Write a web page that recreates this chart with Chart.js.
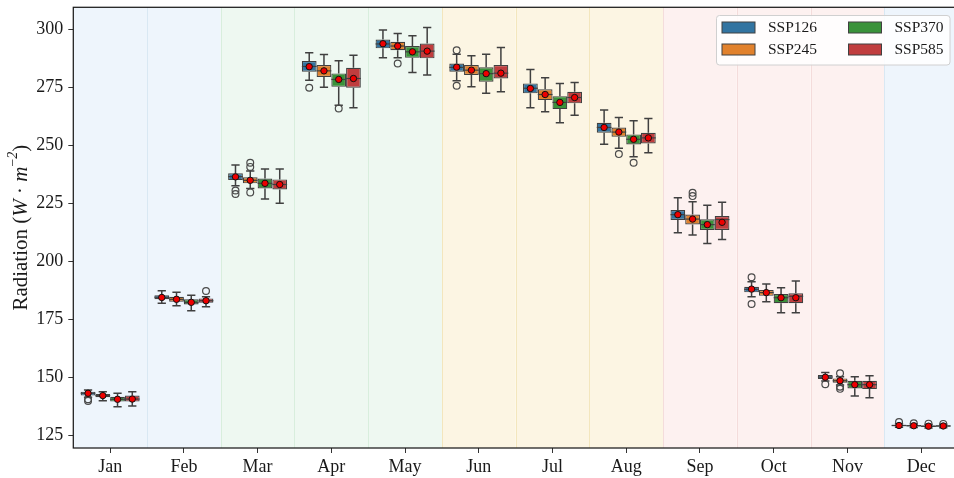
<!DOCTYPE html>
<html>
<head>
<meta charset="utf-8">
<script src="https://cdn.jsdelivr.net/npm/chart.js@4.4.1/dist/chart.umd.min.js"></script>
<style>
  html, body { margin: 0; padding: 0; overflow: hidden; background: #ffffff; }
  #wrap { width: 962px; height: 478px; position: relative; }
</style>
</head>
<body>
<div id="wrap"><canvas id="chart" width="962" height="478"></canvas></div>
<script>
// ---- data -----------------------------------------------------------------
const months = ['Jan','Feb','Mar','Apr','May','Jun','Jul','Aug','Sep','Oct','Nov','Dec'];
const scenarios = ['SSP126','SSP245','SSP370','SSP585'];
const yTicks = [125, 150, 175, 200, 225, 250, 275, 300];

// SSP126 box statistics per month
const lowSSP126  = [141.3, 181.8, 232.5, 278.0, 287.6, 277.7, 266.1, 250.4, 212.2, 184.6, 148.3, 128.3];
const q1SSP126   = [142.0, 183.5, 234.9, 281.6, 291.7, 281.6, 272.3, 255.3, 217.7, 186.5, 149.1, 128.8];
const medSSP126  = [143.0, 184.4, 236.4, 283.9, 293.6, 283.5, 274.5, 257.6, 220.0, 187.8, 150.0, 129.1];
const q3SSP126   = [143.7, 185.3, 237.8, 286.2, 295.5, 285.2, 276.6, 259.6, 222.0, 188.9, 150.9, 129.4];
const highSSP126 = [144.4, 187.2, 241.4, 289.8, 299.6, 289.2, 282.6, 265.1, 227.3, 191.1, 152.0, 129.9];
const meanSSP126 = [143.0, 184.3, 236.3, 283.8, 293.7, 283.6, 274.4, 257.6, 220.0, 187.9, 149.9, 129.1];
const outSSP126  = [[140.4, 139.7], [], [230.4, 228.9], [274.7], [], [290.9, 275.6], [], [], [], [193.0, 181.5], [146.9], [130.6]];

// SSP245
const lowSSP245  = [139.8, 180.7, 231.3, 274.9, 287.6, 275.1, 264.4, 248.6, 211.2, 182.5, 146.6, 128.2];
const q1SSP245   = [141.3, 182.5, 233.5, 279.4, 290.9, 280.2, 269.4, 253.6, 215.8, 185.0, 147.5, 128.7];
const medSSP245  = [142.0, 183.5, 234.8, 282.0, 292.7, 282.3, 271.8, 255.6, 218.1, 186.4, 148.4, 129.0];
const q3SSP245   = [142.7, 184.6, 236.1, 284.5, 294.5, 284.5, 274.1, 257.6, 220.1, 187.5, 149.4, 129.3];
const highSSP245 = [143.7, 186.5, 238.8, 289.1, 298.1, 288.5, 279.0, 261.9, 225.6, 190.1, 150.1, 129.7];
const meanSSP245 = [142.0, 183.5, 234.8, 282.0, 292.7, 282.3, 271.8, 255.6, 218.1, 186.4, 148.4, 129.0];
const outSSP245  = [[], [], [242.4, 240.6, 229.6], [], [285.2], [], [], [246.1], [229.4, 228.0], [], [151.6, 145.8, 144.9], [130.1]];

// SSP370
const lowSSP370  = [137.2, 178.6, 226.7, 267.2, 281.3, 272.3, 259.6, 245.0, 207.6, 177.7, 141.8, 128.0];
const q1SSP370   = [139.4, 181.3, 231.3, 275.1, 287.6, 277.3, 265.5, 250.3, 213.4, 181.8, 145.1, 128.5];
const medSSP370  = [140.4, 182.2, 233.5, 278.3, 290.2, 280.8, 268.4, 252.5, 215.7, 184.2, 146.7, 128.8];
const q3SSP370   = [141.5, 183.5, 235.6, 280.9, 292.7, 283.5, 271.1, 254.6, 218.0, 185.8, 148.4, 129.1];
const highSSP370 = [143.0, 185.3, 239.7, 286.4, 297.1, 289.2, 276.6, 260.5, 224.1, 188.5, 150.1, 129.5];
const meanSSP370 = [140.4, 182.2, 233.5, 278.3, 290.2, 280.8, 268.4, 252.5, 215.7, 184.2, 146.7, 128.8];
const outSSP370  = [[], [], [], [265.8], [], [], [], [242.4], [], [], [], [129.9]];

// SSP585
const lowSSP585  = [137.5, 180.3, 224.9, 266.1, 280.2, 273.0, 262.9, 246.7, 209.3, 177.7, 141.1, 128.1];
const q1SSP585   = [139.4, 182.0, 230.9, 274.7, 287.4, 278.7, 268.0, 250.7, 213.4, 181.8, 144.8, 128.6];
const medSSP585  = [140.5, 182.9, 233.0, 278.7, 290.5, 281.0, 270.5, 253.1, 217.9, 184.8, 146.7, 128.9];
const q3SSP585   = [142.0, 183.9, 235.2, 283.3, 293.8, 284.5, 273.0, 255.3, 219.4, 186.1, 148.4, 129.2];
const highSSP585 = [143.7, 184.6, 239.7, 288.7, 300.7, 292.1, 277.0, 261.5, 225.3, 191.4, 150.6, 129.6];
const meanSSP585 = [140.5, 182.9, 233.0, 278.7, 290.5, 281.0, 270.5, 253.1, 216.7, 184.2, 146.7, 128.9];
const outSSP585  = [[], [187.1], [], [], [], [], [], [], [], [], [], [129.8]];

// ---- styling --------------------------------------------------------------
const boxColors = ['#3274a1', '#e1812c', '#3a923a', '#c03d3e'];
const lineColor = '#404040';
const serif = '"Liberation Serif", "Times New Roman", serif';

// season of each month -> band colours (winter, spring, summer, autumn)
const monthSeason = [0, 0, 1, 1, 1, 2, 2, 2, 3, 3, 3, 0];
const bandFill = ['#eef5fc', '#eef8f1', '#fcf5e3', '#fdf1f0'];
const bandEdge = ['#d9e8f3', '#d8eedd', '#f3e6bd', '#f4dcdb'];

const stats = [
  { low: lowSSP126, q1: q1SSP126, med: medSSP126, q3: q3SSP126, high: highSSP126, mean: meanSSP126, out: outSSP126 },
  { low: lowSSP245, q1: q1SSP245, med: medSSP245, q3: q3SSP245, high: highSSP245, mean: meanSSP245, out: outSSP245 },
  { low: lowSSP370, q1: q1SSP370, med: medSSP370, q3: q3SSP370, high: highSSP370, mean: meanSSP370, out: outSSP370 },
  { low: lowSSP585, q1: q1SSP585, med: medSSP585, q3: q3SSP585, high: highSSP585, mean: meanSSP585, out: outSSP585 }
];

const datasets = scenarios.map((name, k) => ({
  label: name,
  data: months.map((m, i) => [stats[k].q1[i], stats[k].q3[i]]),
  backgroundColor: boxColors[k],
  borderColor: lineColor,
  borderWidth: 1.2,
  borderSkipped: false,
  categoryPercentage: 0.8,
  barPercentage: 1.0
}));

// seasonal background bands behind the boxes
const bandsPlugin = {
  id: 'bands',
  beforeDatasetsDraw(chart) {
    const { ctx, chartArea: a } = chart;
    const step = (a.right - a.left) / months.length;
    ctx.save();
    months.forEach((m, i) => {
      const s = monthSeason[i];
      const x0 = a.left + i * step;
      ctx.fillStyle = bandFill[s];
      ctx.fillRect(x0, a.top, step, a.bottom - a.top);
    });
    ctx.lineWidth = 1;
    months.forEach((m, i) => {
      if (i === 0) return;
      const x0 = Math.round(a.left + i * step) + 0.5;
      ctx.strokeStyle = bandEdge[monthSeason[i]];
      ctx.beginPath();
      ctx.moveTo(x0, a.top);
      ctx.lineTo(x0, a.bottom);
      ctx.stroke();
    });
    ctx.restore();
  }
};

// whiskers, medians, fliers and mean markers on top of the bar boxes
const boxPlugin = {
  id: 'boxExtras',
  afterDatasetsDraw(chart) {
    const { ctx, scales: { y } } = chart;
    ctx.save();
    chart.data.datasets.forEach((ds, k) => {
      const meta = chart.getDatasetMeta(k);
      const s = stats[k];
      meta.data.forEach((el, i) => {
        const cx = el.x, w = el.width;
        const cap = w * 0.28;
        const yLow = y.getPixelForValue(s.low[i]);
        const yQ1 = y.getPixelForValue(s.q1[i]);
        const yMed = y.getPixelForValue(s.med[i]);
        const yQ3 = y.getPixelForValue(s.q3[i]);
        const yHigh = y.getPixelForValue(s.high[i]);
        ctx.strokeStyle = lineColor;
        ctx.lineWidth = 1.5;
        ctx.beginPath();
        ctx.moveTo(cx, yQ3); ctx.lineTo(cx, yHigh);
        ctx.moveTo(cx - cap, yHigh); ctx.lineTo(cx + cap, yHigh);
        ctx.moveTo(cx, yQ1); ctx.lineTo(cx, yLow);
        ctx.moveTo(cx - cap, yLow); ctx.lineTo(cx + cap, yLow);
        ctx.stroke();
        ctx.lineWidth = 1.2;
        ctx.beginPath();
        ctx.moveTo(cx - w / 2, yMed); ctx.lineTo(cx + w / 2, yMed);
        ctx.stroke();
        // fliers
        ctx.strokeStyle = '#4a4a4a';
        ctx.lineWidth = 1.2;
        s.out[i].forEach(v => {
          ctx.beginPath();
          ctx.arc(cx, y.getPixelForValue(v), 3.4, 0, Math.PI * 2);
          ctx.stroke();
        });
        // mean marker
        ctx.beginPath();
        ctx.arc(cx, y.getPixelForValue(s.mean[i]), 3.2, 0, Math.PI * 2);
        ctx.fillStyle = '#ee0000';
        ctx.fill();
        ctx.strokeStyle = '#111111';
        ctx.lineWidth = 1;
        ctx.stroke();
      });
    });
    ctx.restore();
  }
};

// frame, legend and y-axis title
const decorPlugin = {
  id: 'decor',
  afterDraw(chart) {
    const { ctx, chartArea: a } = chart;
    ctx.save();
    // frame
    ctx.strokeStyle = '#1a1a1a';
    ctx.lineWidth = 1.25;
    ctx.strokeRect(a.left, a.top, a.right - a.left, a.bottom - a.top);

    // legend
    const lx = 716.5, ly = 15.5, lw = 233.5, lh = 49.5, r = 3;
    ctx.beginPath();
    ctx.moveTo(lx + r, ly);
    ctx.arcTo(lx + lw, ly, lx + lw, ly + lh, r);
    ctx.arcTo(lx + lw, ly + lh, lx, ly + lh, r);
    ctx.arcTo(lx, ly + lh, lx, ly, r);
    ctx.arcTo(lx, ly, lx + lw, ly, r);
    ctx.closePath();
    ctx.fillStyle = 'rgba(255,255,255,0.85)';
    ctx.fill();
    ctx.strokeStyle = '#d0d0d0';
    ctx.lineWidth = 1;
    ctx.stroke();
    const colX = [722, 848.5];
    const rowY = [27.5, 49.5];
    ctx.font = '15.5px ' + serif;
    ctx.textBaseline = 'middle';
    ctx.textAlign = 'left';
    scenarios.forEach((name, k) => {
      const col = k < 2 ? 0 : 1;
      const row = k % 2;
      const px = colX[col], py = rowY[row];
      ctx.fillStyle = boxColors[k];
      ctx.fillRect(px, py - 5.5, 33, 11);
      ctx.strokeStyle = lineColor;
      ctx.lineWidth = 1;
      ctx.strokeRect(px, py - 5.5, 33, 11);
      ctx.fillStyle = '#1a1a1a';
      ctx.fillText(name, px + 46, py + 0.5);
    });

    // y-axis title with math-style units
    const parts = [
      { t: 'Radiation (', f: '21px ' + serif, dy: 0 },
      { t: 'W', f: 'italic 21px ' + serif, dy: 0 },
      { t: ' \u00B7 ', f: '21px ' + serif, dy: 0 },
      { t: 'm', f: 'italic 21px ' + serif, dy: 0 },
      { t: '\u2212', f: '14px ' + serif, dy: -8 },
      { t: '2', f: 'italic 14px ' + serif, dy: -8 },
      { t: ')', f: '21px ' + serif, dy: 0 }
    ];
    let total = 0;
    parts.forEach(p => { ctx.font = p.f; p.w = ctx.measureText(p.t).width; total += p.w; });
    ctx.translate(20, (a.top + a.bottom) / 2);
    ctx.rotate(-Math.PI / 2);
    ctx.fillStyle = '#1a1a1a';
    ctx.textBaseline = 'middle';
    let px = -total / 2;
    parts.forEach(p => {
      ctx.font = p.f;
      ctx.fillText(p.t, px, p.dy + 1);
      px += p.w;
    });
    ctx.restore();
  }
};

new Chart(document.getElementById('chart'), {
  type: 'bar',
  data: { labels: months, datasets },
  options: {
    responsive: false,
    animation: false,
    events: [],
    layout: { padding: { top: 7.3, right: 4, left: 0, bottom: 0 } },
    plugins: { legend: { display: false }, tooltip: { enabled: false } },
    scales: {
      x: {
        type: 'category',
        offset: true,
        grid: { display: true, offset: false, drawOnChartArea: false, drawTicks: true, tickLength: 5, color: '#333333' },
        border: { display: false },
        ticks: { font: { family: serif, size: 18 }, color: '#1a1a1a', padding: 3, maxRotation: 0 },
        afterFit(scale) {
          scale.height = 30;
          scale.paddingLeft = 0;
          scale.paddingRight = 0;
        }
      },
      y: {
        min: 119.4,
        max: 309.4,
        grid: { display: true, drawOnChartArea: false, drawTicks: true, tickLength: 5, color: '#333333' },
        border: { display: false },
        ticks: { font: { family: serif, size: 18 }, color: '#1a1a1a', padding: 5 },
        afterBuildTicks(scale) { scale.ticks = yTicks.map(v => ({ value: v })); },
        afterFit(scale) {
          scale.width = 73.3;
          scale.paddingTop = 0;
          scale.paddingBottom = 0;
        }
      }
    }
  },
  plugins: [bandsPlugin, boxPlugin, decorPlugin]
});
</script>
</body>
</html>
